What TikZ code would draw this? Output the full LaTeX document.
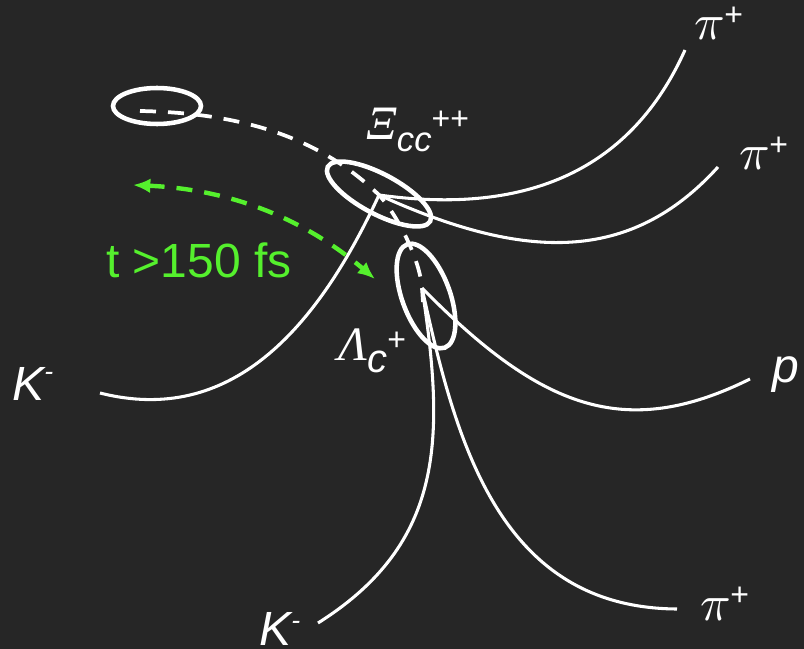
\documentclass[tikz,border=0pt]{standalone}
\usepackage{unicode-math}
\setmainfont{Liberation Sans}
\newfontfamily\greekserif{Liberation Serif}
\usetikzlibrary{arrows.meta}
\definecolor{bgdark}{RGB}{38,38,38}
\definecolor{fsgreen}{RGB}{85,240,45}
% raised/lowered small text: #1 shift, #2 size, #3 text
\newcommand{\shifted}[3]{\raisebox{#1}{\fontsize{#2}{#2}\selectfont #3}}

\begin{document}
\begin{tikzpicture}[
    x=0.75pt, y=-0.75pt,
    >={Latex[length=13pt,width=11pt]},
    track/.style={white, line width=2.3pt},
    ring/.style={white, line width=3.4pt},
    flight/.style={white, line width=2.8pt, dash pattern=on 12pt off 9pt},
    timearrow/.style={fsgreen, line width=3.3pt, dash pattern=on 12pt off 9pt, <->},
    every node/.style={inner sep=0pt, text=white, font=\fontsize{36}{40}\selectfont},
]
\fill[bgdark] (0,0) rectangle (804,649);
\useasboundingbox (0,0) rectangle (804,649);
% vertices: primary, Xi_cc decay, Lambda_c decay
\coordinate (pv) at (140,111);
\coordinate (xiv) at (379,195);
\coordinate (lcv) at (422,288);
% free ends of the tracks
\coordinate (kmA) at (100,393);
\coordinate (pipA) at (685,50);
\coordinate (pipB) at (718,167);
\coordinate (pend) at (750,379);
\coordinate (kmB) at (318,623);
\coordinate (pipC) at (677,609);
% vertex rings
\draw[ring] (157,106) ellipse (44 and 18);
\draw[ring, rotate around={-28:(379,194)}] (379,194) ellipse (58 and 20);
\draw[ring, rotate around={20:(426,296)}] (426,296) ellipse (24 and 55);
% flight paths
\draw[flight] (pv) .. controls (240,113) and (318,136) .. (xiv)
    .. controls (398,216) and (420,260) .. (lcv) -- ++(1,14);
% Xi_cc daughters
\draw[track] (xiv) .. controls (316,331) and (230,426) .. (kmA);
\draw[track] (xiv) .. controls (530,216) and (632,168) .. (pipA);
\draw[track] (xiv) .. controls (526,262) and (631,263) .. (pipB);
% Lambda_c daughters
\draw[track] (lcv) .. controls (541,409) and (625,441) .. (pend);
\draw[track] (lcv) .. controls (445,438) and (445,543) .. (kmB);
\draw[track] (lcv) .. controls (455,437) and (497,608) .. (pipC);
% lifetime arrow
\coordinate (tl) at (133,185);
\coordinate (tr) at (375,279);
\draw[timearrow] (tl) .. controls (243,190) and (314,227) .. (tr);
\node[anchor=base west, text=fsgreen] (life) at (106,277) {t >150 fs};
% particle labels
\node[anchor=base west] (lblxi) at (366,140)
    {{\greekserif\itshape Ξ}\shifted{-9pt}{26}{\itshape cc}\shifted{8pt}{24}{++}};
\node[anchor=base west] (lbllc) at (338,360)
    {{\greekserif\itshape Λ}\shifted{-9pt}{30}{\itshape c}\shifted{7.5pt}{24}{+}};
\node[anchor=base west, font=\fontsize{38}{40}\selectfont] (lblpiA) at (694,40)
    {$\pi$\shifted{11pt}{24}{+}};
\node[anchor=base west, font=\fontsize{38}{40}\selectfont] (lblpiB) at (739,170)
    {$\pi$\shifted{11pt}{24}{+}};
\node[anchor=base west, font=\fontsize{38}{40}\selectfont] (lblpiC) at (700,620)
    {$\pi$\shifted{11pt}{24}{+}};
\node[anchor=base west] (lblkA) at (12,400) {\itshape K\shifted{15pt}{20}{-}};
\node[anchor=base west] (lblkB) at (259,645) {\itshape K\shifted{12pt}{20}{-}};
\node[anchor=base west] (lblp) at (772,382) {\itshape p};
\end{tikzpicture}
\end{document}
